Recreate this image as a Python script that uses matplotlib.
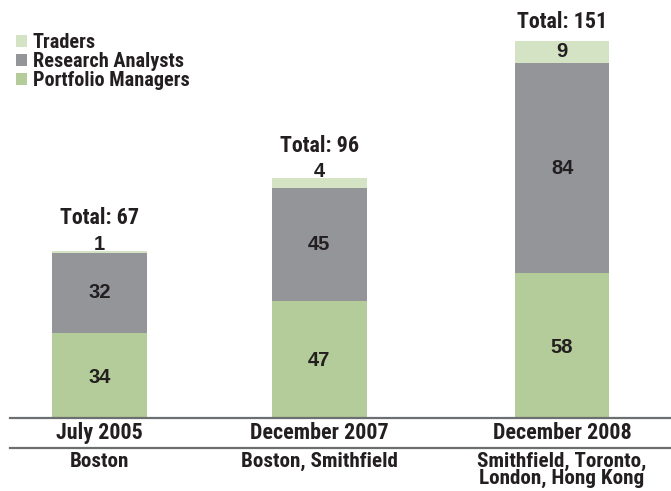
import matplotlib
matplotlib.use("Agg")
import matplotlib.pyplot as plt
import numpy as np

plt.rcParams['font.family'] = ['Roboto Condensed', 'DejaVu Sans']
plt.rcParams['font.weight'] = 'bold'

# data
dates = ["July 2005", "December 2007", "December 2008"]
locations = ["Boston", "Boston, Smithfield", "Smithfield, Toronto,\nLondon, Hong Kong"]
portfolio_managers = [34, 47, 58]
research_analysts = [32, 45, 84]
traders = [1, 4, 9]

C_PM, C_RA, C_TR = "#b3cc99", "#939598", "#d5e3c5"
LINE = "#6d6e71"
TXT = "#231f20"

# layout: slightly uneven group spacing as in the original
xpos = np.array([0, 0.95, 2.0])
W = 0.41
FS = 15.8           # condensed labels
NUM = dict(fontsize=14.5, family=["Liberation Sans", "DejaVu Sans"], color=TXT,
           ha="center", va="center")

fig = plt.figure(figsize=(6.71, 4.91), dpi=100)
ax = fig.add_axes([10/671, 1-418/491, 661/671, 418/491])
ax.set_xlim(-0.387, 2.471)
ax.set_ylim(0, 167.2)

pm = np.array(portfolio_managers)
ra = np.array(research_analysts)
tr = np.array(traders)
tot = pm + ra + tr

b_pm = ax.bar(xpos, pm, W, color=C_PM, label="Portfolio Managers")
b_ra = ax.bar(xpos, ra, W, bottom=pm, color=C_RA, label="Research Analysts")
b_tr = ax.bar(xpos, tr, W, bottom=pm + ra, color=C_TR, label="Traders")

for i, x in enumerate(xpos):
    ax.text(x, pm[i] / 2 - 0.7, str(pm[i]), **NUM)
    ax.text(x, pm[i] + ra[i] / 2, str(ra[i]), **NUM)
    if tr[i] < 5:
        ax.text(x, tot[i] + 2.5, str(tr[i]), **NUM)
        ty = tot[i] + 13
    else:
        ax.text(x, pm[i] + ra[i] + tr[i] / 2, str(tr[i]), **NUM)
        ty = tot[i] + 7.4
    ax.text(x, ty, f"Total: {tot[i]}", ha="center", va="center", fontsize=FS, color=TXT)
    ax.text(x, -6, dates[i], ha="center", va="center", fontsize=FS, color=TXT)
    ax.text(x, -13.6, locations[i], ha="center", va="top", fontsize=15.2, color=TXT,
            linespacing=0.86)

for s in ["top", "right", "left"]:
    ax.spines[s].set_visible(False)
ax.spines["bottom"].set_color(LINE)
ax.spines["bottom"].set_linewidth(1.6)
ax.axhline(-12, color=LINE, lw=1.6, clip_on=False)
ax.set_xticks([])
ax.set_yticks([])

leg = ax.legend(handles=[b_tr, b_ra, b_pm], loc="upper left", bbox_to_anchor=(16/671, 1-33/491),
                bbox_transform=fig.transFigure, frameon=False, fontsize=14.6,
                handlelength=0.55, handleheight=0.55, handletextpad=0.28,
                labelspacing=0.0, borderpad=0, borderaxespad=0)
for t in leg.get_texts():
    t.set_color(TXT)

fig.savefig("out.png", dpi=100)
